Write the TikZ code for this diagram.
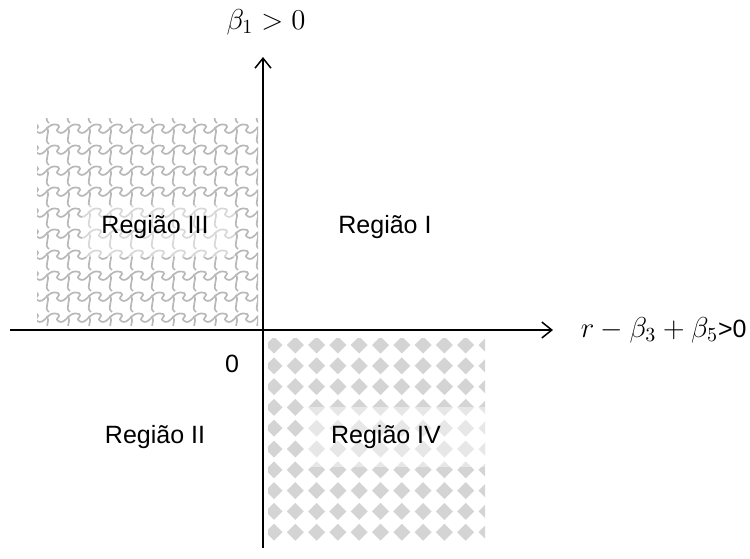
\documentclass[tikz,border=0pt]{standalone}
\usepackage{fontspec}
\setmainfont{Liberation Sans}
\usetikzlibrary{arrows.meta}

\begin{document}
\begin{tikzpicture}[
        x=0.5pt, y=-0.5pt,
        font=\fontsize{12.5}{15}\selectfont,
        axis/.style={draw=black, line width=0.75pt, -{Straight Barb[length=5pt,width=8pt,line width=0.75pt]}},
        label/.style={inner sep=0pt},
        mathlabel/.style={inner sep=0pt, font=\fontsize{14}{16}\selectfont},
        region/.style={inner sep=0pt, text=black},
        scales/.style={draw=black!28, line width=0.85pt, line join=round},
        tile/.style={fill=black!17},
        veil/.style={fill=white, fill opacity=0.45}
    ]
        \useasboundingbox (0,0) rectangle (750,558);

        % Regiao III: telhas
        \begin{scope}
            \clip (37,118) rectangle (258,325);
            \foreach \i in {-1,...,10}
                \foreach \j in {-1,...,10} {
                    \pgfmathsetmacro{\xa}{37+21*\i}
                    \pgfmathsetmacro{\ya}{118+21*\j}
                    \draw[scales] (\xa,\ya+14) .. controls (\xa+8,\ya+19) and (\xa+10,\ya+3) .. (\xa+21,\ya+7)
                        .. controls (\xa+25,\ya+9) and (\xa+17,\ya+12) .. (\xa+21,\ya+14);
                    \draw[scales] (\xa+10,\ya+9) .. controls (\xa+14,\ya+14) and (\xa+6,\ya+22) .. (\xa+12,\ya+26);
                }
        \end{scope}
        \fill[veil] (82,205) rectangle (235,257);

        % Regiao IV: losangos
        \begin{scope}
            \clip (268,338) rectangle (485,543);
            \foreach \i in {0,...,10}
                \foreach \j in {0,...,9} {
                    \pgfmathsetmacro{\xa}{274+21.3*\i}
                    \pgfmathsetmacro{\ya}{345+20.8*\j}
                    \fill[tile] (\xa-8.5,\ya) -- (\xa,\ya-8.5) -- (\xa+8.5,\ya) -- (\xa,\ya+8.5) -- cycle;
                }
        \end{scope}
        \fill[veil] (308,407) rectangle (485,467);

        % eixos
        \coordinate (xstart) at (10,330);
        \coordinate (xend) at (553,330);
        \coordinate (ystart) at (263,548);
        \coordinate (yend) at (263,57);
        \draw[axis] (xstart) -- (xend);
        \draw[axis] (ystart) -- (yend);

        \node[mathlabel] (beta1) at (266,22) {$\beta_1 > 0$};
        \node[mathlabel, anchor=east] (cond) at (747,330) {$r-\beta_3+\beta_5$\fontsize{12.5}{15}\selectfont>0};
        \node[label] (zero) at (232,364) {0};

        \node[region] (r1) at (385,227) {Região I};
        \node[region] (r2) at (155,437) {Região II};
        \node[region] (r3) at (155,227) {Região III};
        \node[region] (r4) at (386,437) {Região IV};
    \end{tikzpicture}
\end{document}
